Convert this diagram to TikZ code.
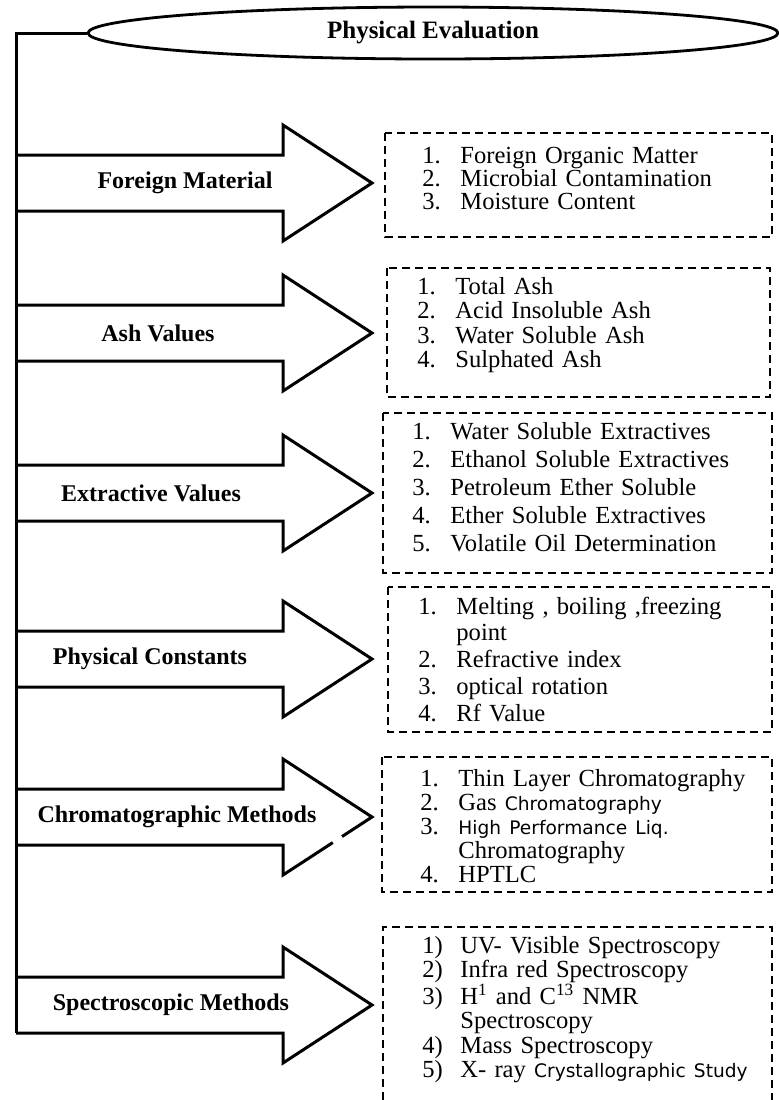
\documentclass[tikz,border=0pt]{standalone}
\usepackage{fontspec}
\setmainfont{Liberation Serif}
\newfontfamily\listsans{DejaVu Sans}
\usetikzlibrary{shapes.geometric}

\tikzset{
  spine/.style={line width=1.5pt},
  bigarrow/.style={line width=1.5pt, line join=miter},
  listbox/.style={line width=0.8pt, dash pattern=on 4pt off 2.5pt},
  headlabel/.style={font=\fontsize{12}{14}\selectfont\bfseries, inner sep=0pt},
  listtext/.style={anchor=base west, inner sep=0pt, align=left, text width=170pt},
}
\newcommand{\itm}[2]{\makebox[19pt][l]{#1}#2}
\newcommand{\cnt}[1]{\hspace*{19pt}#1}
\newcommand{\sm}[1]{{\listsans\fontsize{9.3}{11}\selectfont #1}}

\begin{document}
\begin{tikzpicture}[x=0.5pt,y=-0.5pt]
  \useasboundingbox (0,0) rectangle (779,1100);

  \node[draw, ellipse, line width=1.4pt, minimum width=345pt, minimum height=26pt, inner sep=0pt,
        font=\fontsize{12.5}{14}\selectfont\bfseries] (eval) at (433,33) {Physical Evaluation};
  \coordinate (spinetop) at (16,33);
  \coordinate (spinebot) at (16,1033);
  \draw[spine] (eval.west) -- (spinetop) -- (spinebot);

  % block arrows off the spine
  \foreach \yy/\nm/\lx/\txt in {183/fm/185/Foreign Material, 333/ash/158/Ash Values,
      493/ext/151/Extractive Values, 659/pc/150/Physical Constants,
      817/chr/177/Chromatographic Methods, 1005/spc/171/Spectroscopic Methods}{
    \draw[bigarrow] (16,\yy-28) -- (283,\yy-28) -- (283,\yy-58) -- (372,\yy)
      -- (283,\yy+58) -- (283,\yy+28) -- (16,\yy+28);
    \node[headlabel] (\nm) at (\lx,\yy) {\txt};
  }
  \draw[white, line width=2.5pt] (333,842.6) -- (342,836.8);

  % dashed lists
  \draw[listbox] (385,133) rectangle (772,237);
  \draw[listbox] (387,268) rectangle (770,397);
  \draw[listbox] (383,413) rectangle (772,573);
  \draw[listbox] (388,587) rectangle (772,732);
  \draw[listbox] (382,757) rectangle (772,892);
  \draw[listbox] (383,1100) -- (383,927) -- (772,927) -- (772,1100);

  \node[listtext, font=\fontsize{12.3}{11.5}\selectfont] (fmlist) at (422,163)
    {\itm{1.}{Foreign Organic Matter}\\ \itm{2.}{Microbial Contamination}\\ \itm{3.}{Moisture Content}};
  \node[listtext, font=\fontsize{12.3}{12.3}\selectfont] (ashlist) at (417,294)
    {\itm{1.}{Total Ash}\\ \itm{2.}{Acid Insoluble Ash}\\ \itm{3.}{Water Soluble Ash}\\ \itm{4.}{Sulphated Ash}};
  \node[listtext, font=\fontsize{12.3}{14}\selectfont] (extlist) at (412,439)
    {\itm{1.}{Water Soluble Extractives}\\ \itm{2.}{Ethanol Soluble Extractives}\\
     \itm{3.}{Petroleum Ether Soluble}\\ \itm{4.}{Ether Soluble Extractives}\\ \itm{5.}{Volatile Oil Determination}};
  \node[listtext, font=\fontsize{12.3}{13.4}\selectfont] (pclist) at (418,614)
    {\itm{1.}{Melting , boiling ,freezing}\\ \cnt{point}\\ \itm{2.}{Refractive index}\\
     \itm{3.}{optical rotation}\\ \itm{4.}{Rf Value}};
  \node[listtext, font=\fontsize{12.3}{12.1}\selectfont] (chrlist) at (420,786)
    {\itm{1.}{Thin Layer Chromatography}\\ \itm{2.}{Gas \sm{Chromatography}}\\
     \itm{3.}{\sm{High Performance Liq.}}\\ \cnt{Chromatography}\\ \itm{4.}{HPTLC}};
  \node[listtext, font=\fontsize{12.3}{12.1}\selectfont] (spclist) at (422,953)
    {\itm{1)}{UV- Visible Spectroscopy}\\ \itm{2)}{Infra red Spectroscopy}\\
     \itm{3)}{H\textsuperscript{1} and C\textsuperscript{13} NMR}\\ \cnt{Spectroscopy}\\
     \itm{4)}{Mass Spectroscopy}\\ \itm{5)}{X- ray \sm{Crystallographic Study}}};
\end{tikzpicture}
\end{document}
